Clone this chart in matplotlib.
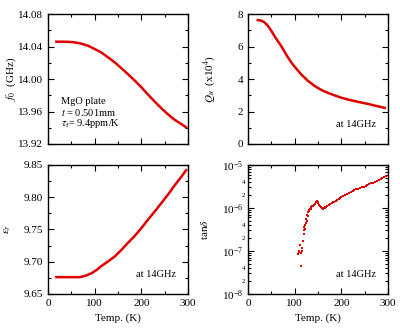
import numpy as np
import matplotlib
matplotlib.use("Agg")
import matplotlib.pyplot as plt
from matplotlib.ticker import MultipleLocator, LogLocator, FuncFormatter

plt.rcParams['font.family'] = ['Liberation Serif', 'DejaVu Serif']
plt.rcParams['mathtext.fontset'] = 'stix'

# Resonant frequency f0 (GHz) vs temperature
t_f0 = [18, 30, 45, 57, 70, 86, 100, 114, 128, 143, 157, 171, 186, 200,
        214, 229, 243, 257, 271, 286, 296]
f0 = [14.046, 14.046, 14.0458, 14.0452, 14.0438, 14.041, 14.037, 14.0328,
      14.027, 14.0205, 14.0135, 14.0062, 13.998, 13.990, 13.981, 13.972,
      13.964, 13.9565, 13.950, 13.9445, 13.9405]

# Unloaded Q (x10^4)
t_q = [21, 28, 35, 42, 50, 60, 71, 82, 93, 104, 114, 128, 143, 157, 171,
       186, 200, 214, 229, 243, 257, 271, 286, 293]
q_u = [7.63, 7.60, 7.50, 7.30, 6.97, 6.50, 6.04, 5.50, 5.01, 4.62, 4.29,
       3.90, 3.57, 3.33, 3.15, 2.99, 2.85, 2.74, 2.64, 2.55, 2.47, 2.37,
       2.27, 2.23]

# Relative permittivity
t_eps = [18, 40, 68, 80, 93, 104, 114, 128, 143, 157, 171, 186, 200, 214,
         229, 243, 257, 271, 286, 296]
eps_r = [9.676, 9.676, 9.676, 9.678, 9.682, 9.687, 9.693, 9.700, 9.708,
         9.718, 9.729, 9.740, 9.752, 9.765, 9.778, 9.791, 9.804, 9.818,
         9.832, 9.842]

# Loss tangent (units of 1e-6)
t_tan = [107, 109, 110, 112, 113, 114, 115, 116, 118, 119, 120, 121, 122, 123,
         124, 125, 126, 127, 128, 129, 130, 131, 132, 134, 135, 136, 138, 140,
         142, 144, 146, 148, 149, 150, 152, 154, 156, 158, 160, 162, 164, 166,
         168, 170, 173, 176, 179, 182, 185, 188, 191, 194, 197, 200, 204, 208,
         212, 216, 220, 224, 228, 232, 236, 240, 244, 248, 252, 256, 260, 264,
         268, 272, 276, 280, 284, 288, 292, 295]
tan_d = [0.085, 0.10, 0.095, 0.14, 0.09, 0.044, 0.12, 0.10, 0.17, 0.30, 0.25,
         0.36, 0.40, 0.33, 0.45, 0.55, 0.50, 0.70, 0.65, 0.80, 0.90, 0.85, 0.95,
         1.00, 0.97, 1.05, 1.10, 1.12, 1.20, 1.25, 1.35, 1.45, 1.40, 1.30, 1.20,
         1.12, 1.05, 1.00, 0.97, 1.00, 1.02, 1.05, 1.08, 1.12, 1.18, 1.22, 1.28,
         1.35, 1.40, 1.47, 1.55, 1.62, 1.70, 1.78, 1.88, 1.98, 2.10, 2.22, 2.35,
         2.48, 2.60, 2.70, 2.80, 2.92, 3.02, 3.15, 3.28, 3.40, 3.55, 3.72, 3.90,
         4.08, 4.28, 4.50, 4.70, 4.95, 5.20, 5.40]

RED = '#e00000'
FS = 8

fig = plt.figure(figsize=(4.0, 3.28), dpi=100)
ax_f = fig.add_axes([0.12, 0.561, 0.35, 0.396])
ax_q = fig.add_axes([0.62, 0.561, 0.35, 0.396])
ax_e = fig.add_axes([0.12, 0.104, 0.35, 0.393])
ax_t = fig.add_axes([0.62, 0.104, 0.35, 0.393])


def style(ax):
    ax.set_xlim(0, 300)
    ax.xaxis.set_major_locator(MultipleLocator(100))
    ax.xaxis.set_minor_locator(MultipleLocator(50))
    ax.tick_params(which='both', direction='in', top=True, right=True,
                   labelsize=FS, width=0.8)
    ax.tick_params(which='major', length=4)
    ax.tick_params(which='minor', length=2)
    for s in ax.spines.values():
        s.set_linewidth(1.0)


for ax in (ax_f, ax_q, ax_e, ax_t):
    style(ax)

ax_f.plot(t_f0, f0, color=RED, lw=1.8, solid_joinstyle='round')
ax_f.set_ylim(13.92, 14.08)
ax_f.yaxis.set_major_locator(MultipleLocator(0.04))
ax_f.yaxis.set_minor_locator(MultipleLocator(0.02))
ax_f.yaxis.set_major_formatter(FuncFormatter(lambda v, p: f"{v:.2f}"))
ax_f.set_xticklabels([])
ax_f.set_ylabel(r"$f_0$  (GHz)", fontsize=FS)
ax_f.yaxis.set_label_coords(-0.215, 0.5)
ax_f.text(0.09, 0.33, "MgO plate", transform=ax_f.transAxes, fontsize=FS - 0.5, va='center')
ax_f.text(0.09, 0.245, r"$t$ = 0.501mm", transform=ax_f.transAxes, fontsize=FS - 0.5, va='center')
ax_f.text(0.09, 0.155, r"$\tau_{\mathrm{f}}$= 9.4ppm/K", transform=ax_f.transAxes, fontsize=FS - 0.5, va='center')

ax_q.plot(t_q, q_u, color=RED, lw=1.8, solid_joinstyle='round')
ax_q.set_ylim(0, 8)
ax_q.yaxis.set_major_locator(MultipleLocator(2))
ax_q.yaxis.set_minor_locator(MultipleLocator(1))
ax_q.set_xticklabels([])
ax_q.set_ylabel(r"$Q_u$  (x10$^4$)", fontsize=FS)
ax_q.yaxis.set_label_coords(-0.215, 0.5)

ax_e.plot(t_eps, eps_r, color=RED, lw=1.8, solid_joinstyle='round')
ax_e.set_ylim(9.65, 9.85)
ax_e.yaxis.set_major_locator(MultipleLocator(0.05))
ax_e.yaxis.set_minor_locator(MultipleLocator(0.025))
ax_e.yaxis.set_major_formatter(FuncFormatter(lambda v, p: f"{v:.2f}"))
ax_e.set_ylabel(r"$\varepsilon_r$", fontsize=FS)
ax_e.yaxis.set_label_coords(-0.25, 0.5)
ax_e.set_xlabel("Temp. (K)", fontsize=FS)

ax_t.plot(t_tan, np.array(tan_d) * 1e-6, 's', color=RED, ms=1.8, mew=0)
ax_t.set_yscale('log')
ax_t.set_ylim(1e-8, 1e-5)
ax_t.yaxis.set_major_locator(LogLocator(base=10, numticks=10))
ax_t.yaxis.set_minor_locator(LogLocator(base=10, subs=np.arange(2, 10), numticks=10))


def minor_fmt(v, p):
    m = round(v / 10 ** np.floor(np.log10(v) + 1e-9))
    return str(m) if m in (2, 4) else ""


ax_t.yaxis.set_minor_formatter(FuncFormatter(minor_fmt))
ax_t.tick_params(axis='y', which='minor', labelsize=5, pad=2)
ax_t.tick_params(axis='y', which='major', labelsize=FS)
ax_t.set_ylabel(r"tan$\delta$", fontsize=FS)
ax_t.yaxis.set_label_coords(-0.27, 0.5)
ax_t.set_xlabel("Temp. (K)", fontsize=FS)

for ax in (ax_q, ax_e, ax_t):
    ax.text(0.915, 0.147, "at 14GHz", transform=ax.transAxes, fontsize=FS - 0.5,
            ha='right', va='center')

fig.savefig("out.png", dpi=100)
